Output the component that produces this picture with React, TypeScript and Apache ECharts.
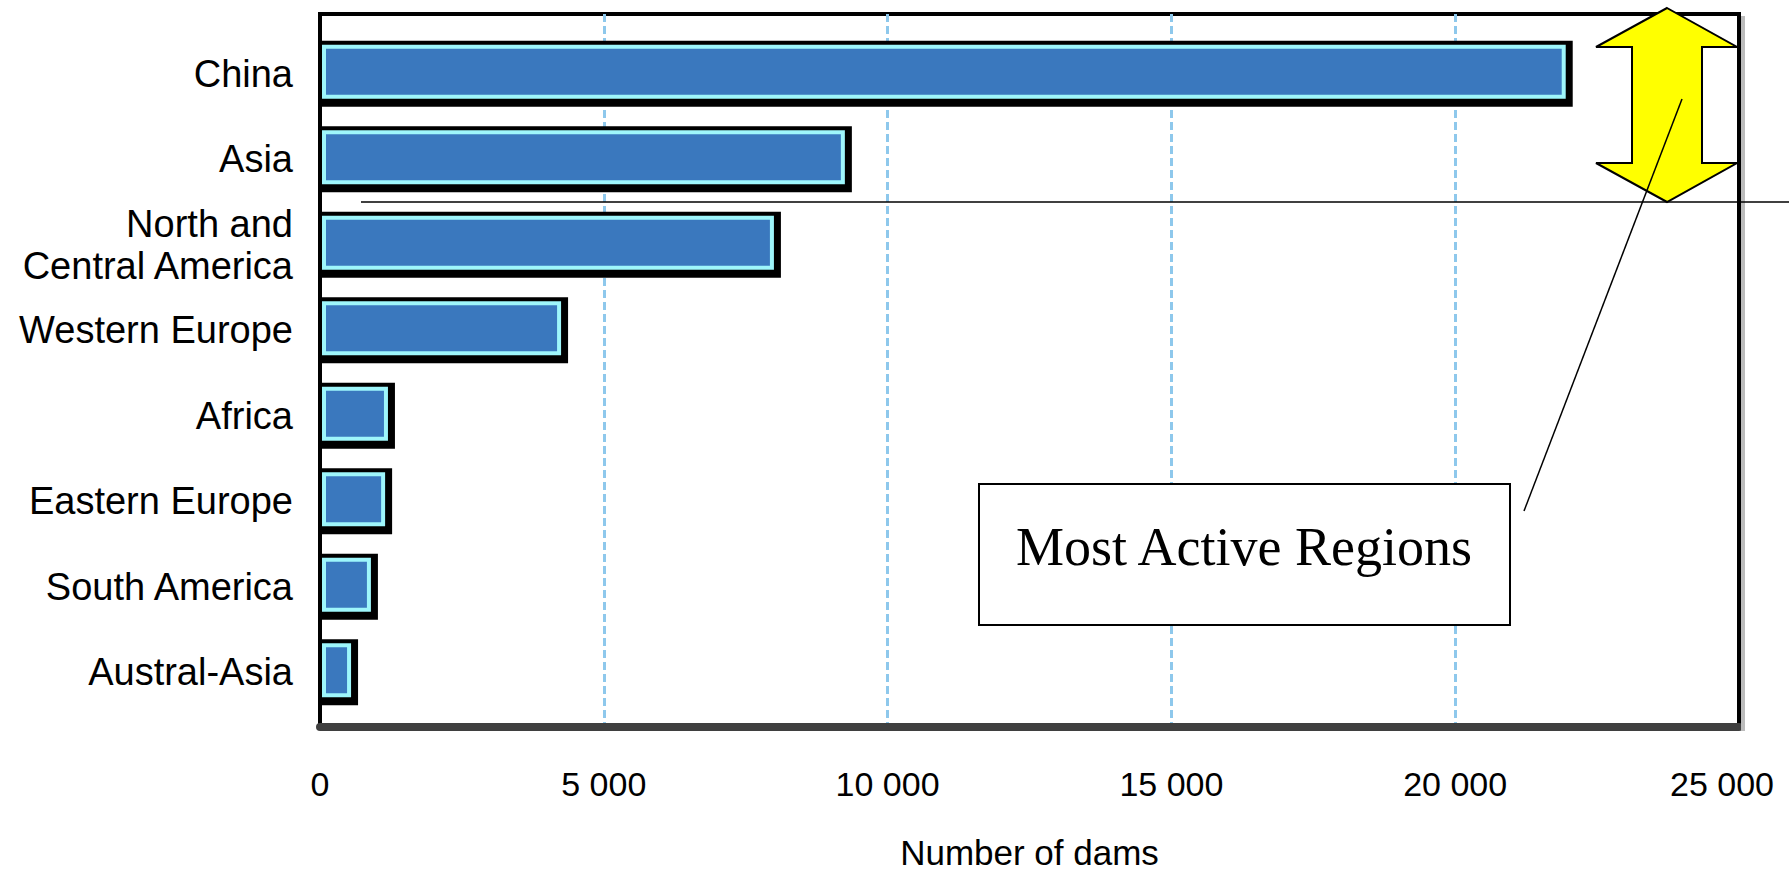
import React, { useEffect, useRef } from "react";
import * as echarts from "echarts";

// Registered dams by region
const regions = [
  "China",
  "Asia",
  "North and\nCentral America",
  "Western Europe",
  "Africa",
  "Eastern Europe",
  "South America",
  "Austral-Asia",
];
const damCounts = [22000, 9300, 8050, 4300, 1250, 1200, 950, 600];

const axisMin = 0;
const axisMax = 25000;
const axisStep = 5000;

const calloutText = "Most Active Regions";
const axisTitle = "Number of dams";

// thousands separated by a space: 25000 -> "25 000"
const fmt = (v: number) => String(v).replace(/\B(?=(\d{3})+(?!\d))/g, " ");

// framed bar: black outline with drop edge, light cyan rim, blue body
function renderBar(params: any, api: any) {
  const v = api.value(0);
  const idx = api.value(1);
  const end = api.coord([v, idx]);
  const start = api.coord([0, idx]);
  const x0 = start[0];
  const x1 = end[0];
  const cy = end[1];
  return {
    type: "group",
    children: [
      {
        type: "rect",
        shape: { x: x0, y: cy - 33, width: x1 + 4 - x0, height: 66 },
        style: { fill: "#000000" },
      },
      {
        type: "rect",
        shape: { x: x0 + 2, y: cy - 29, width: x1 - 3 - (x0 + 2), height: 54 },
        style: { fill: "#9ef6fb" },
      },
      {
        type: "rect",
        shape: { x: x0 + 6, y: cy - 25, width: Math.max(0, x1 - 7 - (x0 + 6)), height: 46 },
        style: { fill: "#3a78be" },
      },
    ],
  };
}

export default function App() {
  const ref = useRef<HTMLDivElement>(null);

  useEffect(() => {
    if (!ref.current) return;
    const chart = echarts.init(ref.current, null, { renderer: "svg" });

    chart.setOption({
      animation: false,
      backgroundColor: "#ffffff",
      grid: [
        {
          left: 320,
          right: 50,
          top: 14,
          bottom: 146,
          outerBoundsMode: "none",
          containLabel: false,
          show: true,
          borderColor: "#000000",
          borderWidth: 4,
          backgroundColor: "transparent",
        },
        {
          left: 320,
          right: 50,
          top: 31,
          height: 684,
          outerBoundsMode: "none",
          containLabel: false,
        },
      ],
      xAxis: [
        {
          gridIndex: 0,
          type: "value",
          min: axisMin,
          max: axisMax,
          interval: axisStep,
          axisLine: { show: true, lineStyle: { color: "#3f3f3f", width: 8 } },
          axisTick: { show: false },
          splitLine: {
            show: true,
            showMinLine: false,
            showMaxLine: false,
            lineStyle: { color: "#8ec8ec", width: 3, type: [8, 4] },
          },
          axisLabel: {
            // the last label sits a little left so it stays on the page
            formatter: (v: number) => (v === axisMax ? `{edge|${fmt(v)}}` : fmt(v)),
            color: "#000000",
            fontSize: 34,
            fontFamily: "'Liberation Sans', Arial, sans-serif",
            margin: 40,
            rich: {
              edge: {
                color: "#000000",
                fontSize: 34,
                fontFamily: "'Liberation Sans', Arial, sans-serif",
                padding: [0, 34, 0, 0],
              },
            },
          },
          name: axisTitle,
          nameLocation: "middle",
          nameGap: 108,
          nameTextStyle: {
            color: "#000000",
            fontSize: 35,
            fontFamily: "'Liberation Sans', Arial, sans-serif",
          },
        },
        {
          gridIndex: 1,
          type: "value",
          min: axisMin,
          max: axisMax,
          show: false,
        },
      ],
      yAxis: [
        { gridIndex: 0, type: "value", show: false },
        {
          gridIndex: 1,
          type: "category",
          data: regions,
          inverse: true,
          axisLine: { show: false },
          axisTick: { show: false },
          splitLine: { show: false },
          axisLabel: {
            color: "#000000",
            fontSize: 38,
            lineHeight: 42,
            margin: 27,
            fontFamily: "'Liberation Sans', Arial, sans-serif",
          },
        },
      ],
      series: [
        {
          type: "custom",
          xAxisIndex: 1,
          yAxisIndex: 1,
          data: damCounts.map((v, i) => [v, i]),
          encode: { x: 0, y: 1 },
          renderItem: renderBar,
        },
      ],
      graphic: [
        {
          type: "rect",
          shape: { x: 1741, y: 16, width: 4, height: 715 },
          style: { fill: "#bcbcbc" },
          z: 5,
        },
        {
          type: "polygon",
          shape: {
            points: [
              [1667, 8],
              [1737, 47],
              [1702, 47],
              [1702, 163],
              [1737, 163],
              [1667, 202],
              [1596, 163],
              [1632, 163],
              [1632, 47],
              [1596, 47],
            ],
          },
          style: { fill: "#ffff00", stroke: "#000000", lineWidth: 2 },
          z: 10,
        },
        {
          type: "line",
          shape: { x1: 361, y1: 202, x2: 1789, y2: 202 },
          style: { stroke: "#000000", lineWidth: 1.5 },
          z: 11,
        },
        {
          type: "line",
          shape: { x1: 1682, y1: 99, x2: 1524, y2: 511 },
          style: { stroke: "#000000", lineWidth: 1.5 },
          z: 11,
        },
        {
          type: "rect",
          shape: { x: 979, y: 484, width: 531, height: 141 },
          style: { fill: "#ffffff", stroke: "#000000", lineWidth: 2 },
          z: 10,
        },
        {
          type: "text",
          x: 1244,
          y: 547,
          style: {
            text: calloutText,
            fontSize: 54,
            fontFamily: "'Liberation Serif', 'Times New Roman', serif",
            fill: "#000000",
            align: "center",
            verticalAlign: "middle",
          },
          z: 11,
        },
      ],
    });

    return () => chart.dispose();
  }, []);

  return (
    <div
      ref={ref}
      style={{ position: "absolute", left: 0, top: 0, width: 1789, height: 873, background: "#fff" }}
    />
  );
}
